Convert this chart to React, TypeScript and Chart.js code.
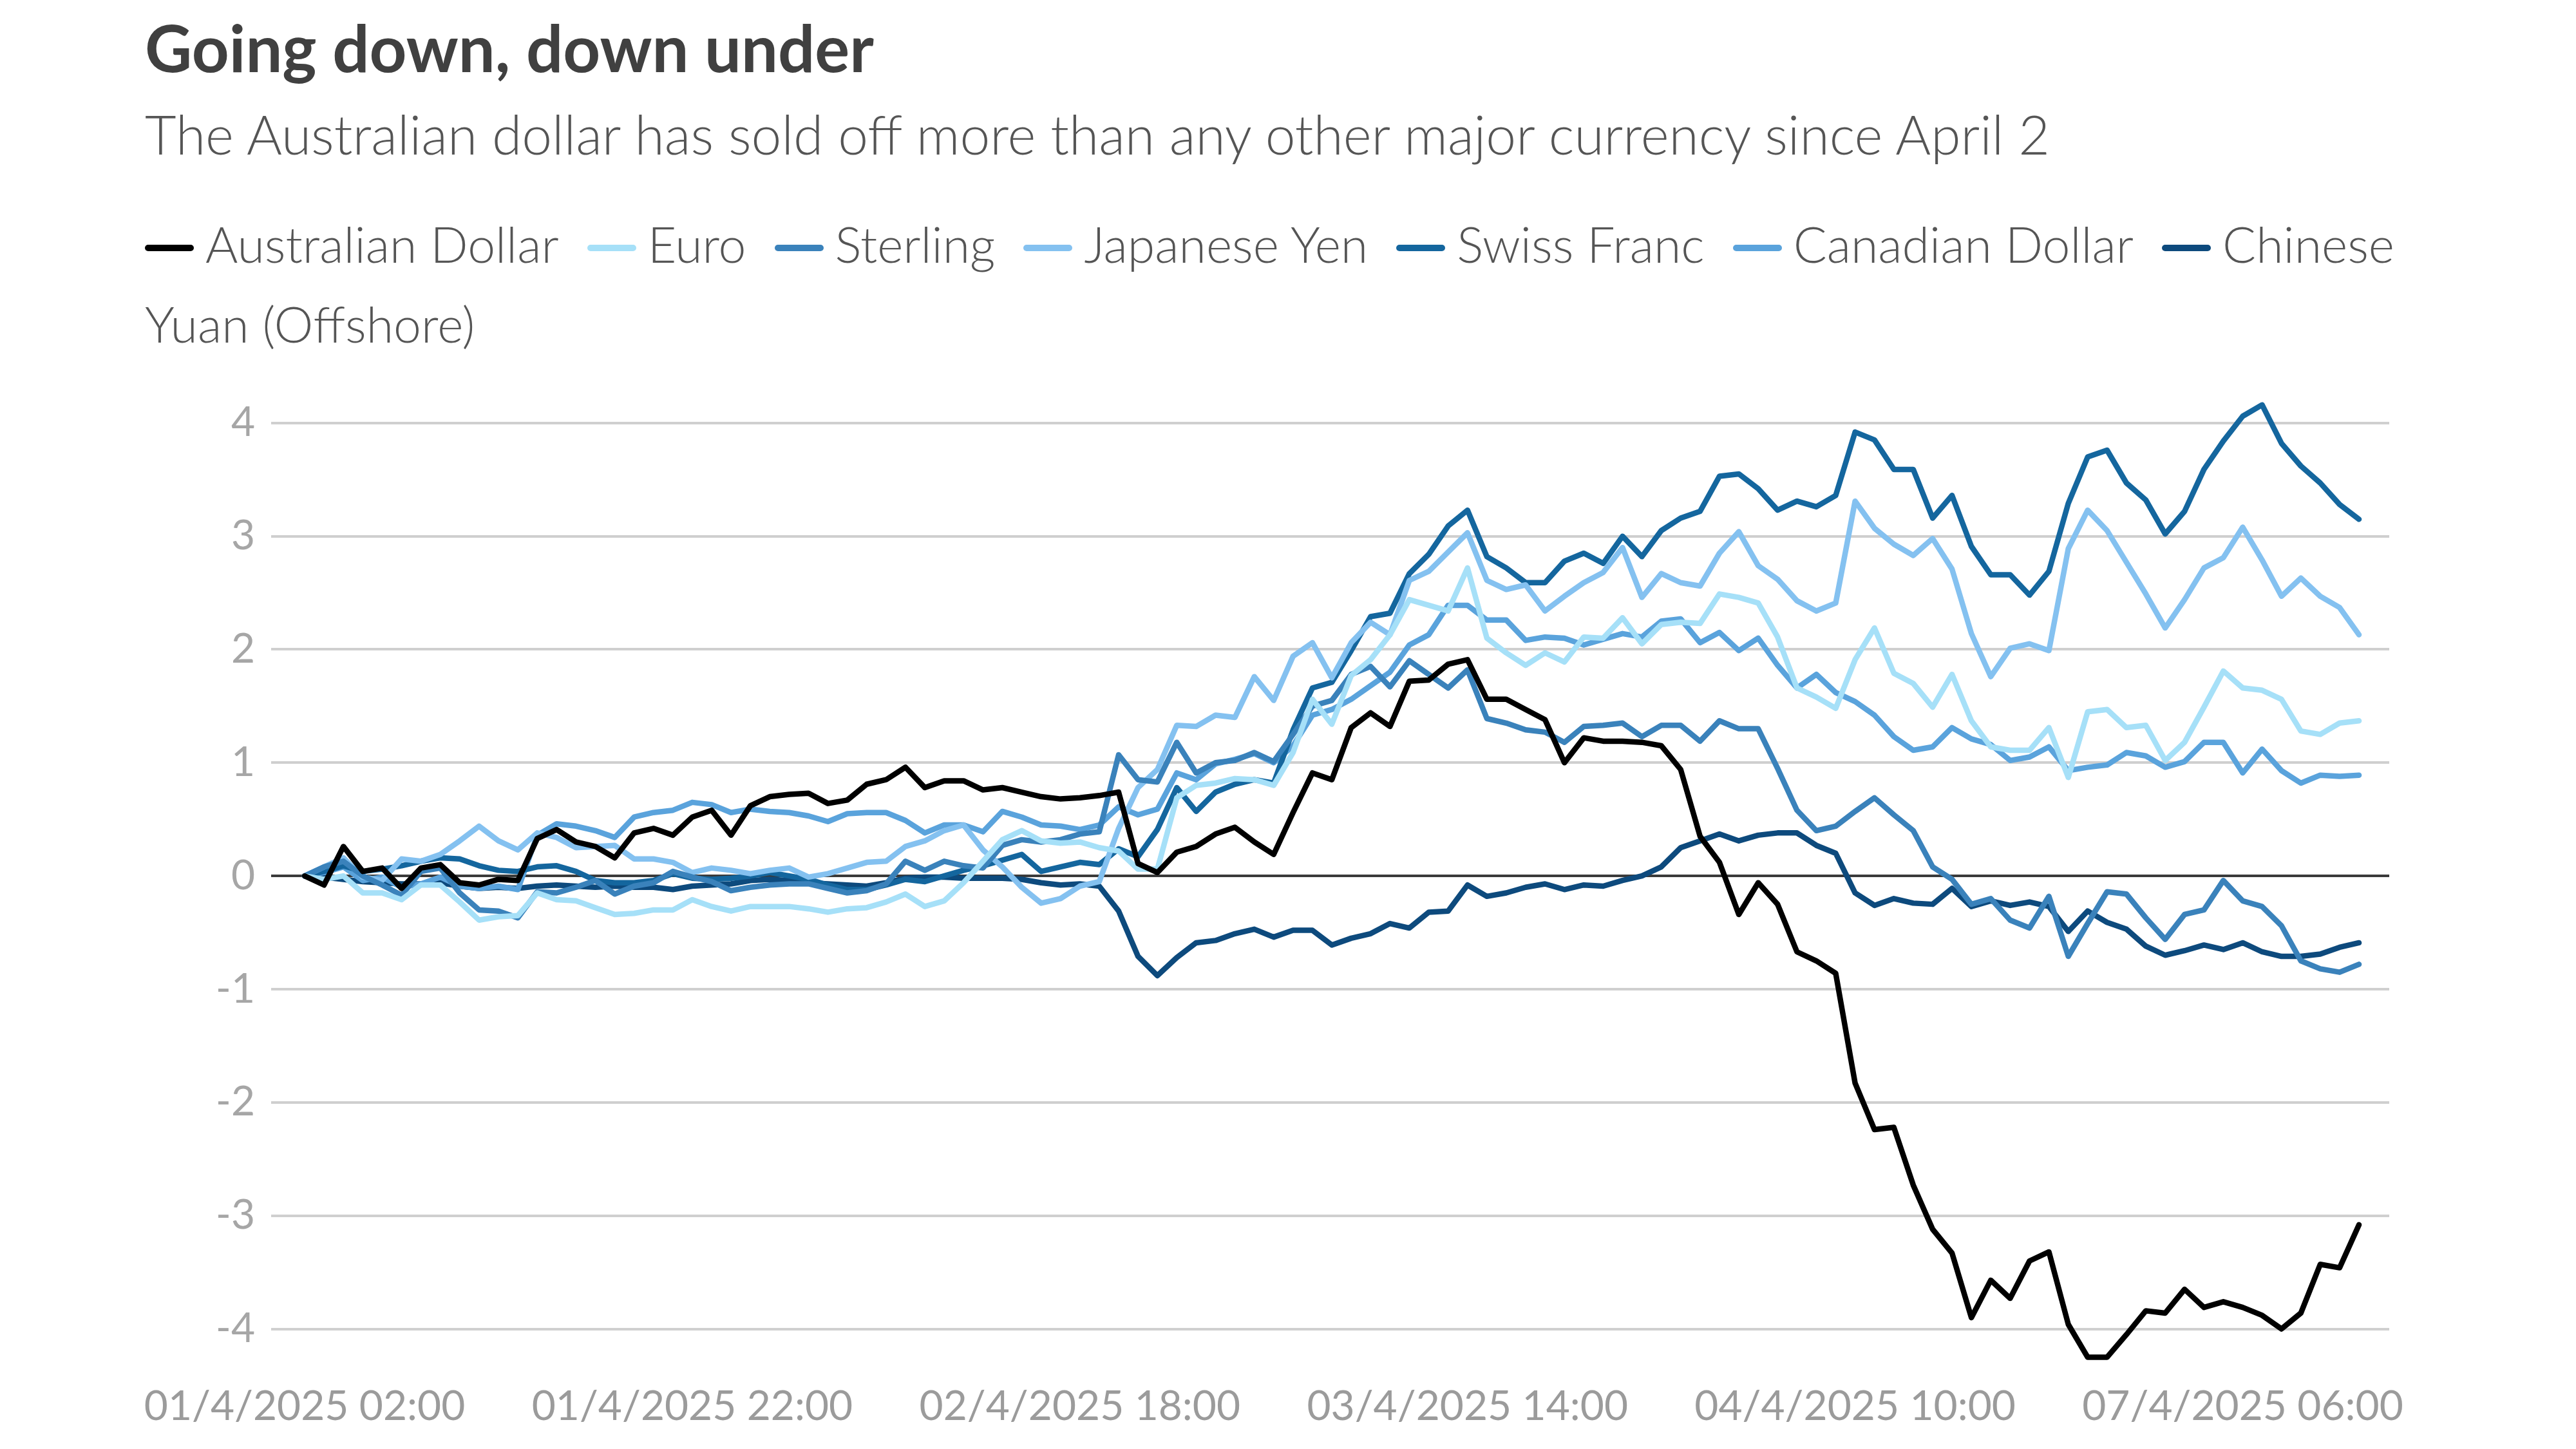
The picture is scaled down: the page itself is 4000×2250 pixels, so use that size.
import { useEffect, useRef } from 'react';
import { Chart, registerables } from 'chart.js';

Chart.register(...registerables);

// % change since 01/4/2025 02:00, hourly trading points (weekend skipped)
const seriesNames = [
  'Australian Dollar',
  'Euro',
  'Sterling',
  'Japanese Yen',
  'Swiss Franc',
  'Canadian Dollar',
  'Chinese Yuan (Offshore)',
];

const seriesColors = ['#000000', '#a6e0f8', '#3a82bb', '#84c1f0', '#14669e', '#5aa3dc', '#0d4a7d'];

const audValues = [
  0, -0.08, 0.26, 0.04, 0.07, -0.11, 0.07, 0.1, -0.06, -0.08, -0.03, -0.04, 0.33, 0.41, 0.3, 0.26, 0.16, 0.38, 0.42, 0.36,
  0.52, 0.58, 0.36, 0.62, 0.7, 0.72, 0.73, 0.64, 0.67, 0.81, 0.85, 0.96, 0.78, 0.84, 0.84, 0.76, 0.78, 0.74, 0.7, 0.68,
  0.69, 0.71, 0.74, 0.11, 0.03, 0.21, 0.26, 0.37, 0.43, 0.3, 0.19, 0.56, 0.91, 0.85, 1.31, 1.44, 1.32, 1.72, 1.73, 1.87,
  1.91, 1.56, 1.56, 1.47, 1.38, 1.0, 1.22, 1.19, 1.19, 1.18, 1.15, 0.94, 0.35, 0.12, -0.34, -0.06, -0.25, -0.67, -0.75, -0.86,
  -1.83, -2.24, -2.22, -2.73, -3.12, -3.33, -3.9, -3.57, -3.73, -3.4, -3.32, -3.96, -4.25, -4.25, -4.05, -3.84, -3.86, -3.65, -3.81, -3.76,
  -3.81, -3.88, -4.0, -3.86, -3.43, -3.46, -3.08,
];

const eurValues = [
  0, -0.03, 0, -0.15, -0.15, -0.21, -0.08, -0.08, -0.23, -0.39, -0.36, -0.35, -0.15, -0.21, -0.22, -0.28, -0.34, -0.33, -0.3, -0.3,
  -0.21, -0.27, -0.31, -0.27, -0.27, -0.27, -0.29, -0.32, -0.29, -0.28, -0.23, -0.16, -0.27, -0.22, -0.06, 0.13, 0.32, 0.4, 0.31, 0.29,
  0.3, 0.25, 0.22, 0.06, 0.06, 0.69, 0.8, 0.82, 0.86, 0.85, 0.8, 1.09, 1.56, 1.34, 1.77, 1.91, 2.13, 2.44, 2.39, 2.34,
  2.72, 2.1, 1.97, 1.86, 1.97, 1.89, 2.11, 2.1, 2.28, 2.05, 2.22, 2.24, 2.23, 2.49, 2.46, 2.41, 2.11, 1.66, 1.58, 1.48,
  1.91, 2.19, 1.79, 1.7, 1.49, 1.78, 1.37, 1.14, 1.11, 1.11, 1.31, 0.87, 1.45, 1.47, 1.31, 1.33, 1.02, 1.18, 1.49, 1.81,
  1.66, 1.64, 1.56, 1.28, 1.25, 1.35, 1.37,
];

const gbpValues = [
  0, 0.08, 0.13, 0, -0.08, -0.17, 0.04, 0.07, -0.15, -0.3, -0.31, -0.37, -0.14, -0.15, -0.1, -0.04, -0.16, -0.09, -0.06, 0.04,
  -0.01, -0.05, -0.13, -0.1, -0.08, -0.07, -0.07, -0.11, -0.15, -0.13, -0.07, 0.13, 0.05, 0.13, 0.09, 0.07, 0.27, 0.32, 0.3, 0.32,
  0.37, 0.39, 1.07, 0.85, 0.83, 1.18, 0.91, 1.0, 1.02, 1.09, 1.01, 1.25, 1.5, 1.55, 1.78, 1.85, 1.67, 1.9, 1.78, 1.66,
  1.82, 1.39, 1.35, 1.29, 1.27, 1.18, 1.32, 1.33, 1.35, 1.23, 1.33, 1.33, 1.19, 1.37, 1.3, 1.3, 0.95, 0.58, 0.4, 0.44,
  0.57, 0.69, 0.54, 0.4, 0.08, -0.03, -0.25, -0.2, -0.39, -0.46, -0.18, -0.71, -0.42, -0.14, -0.16, -0.37, -0.56, -0.34, -0.3, -0.04,
  -0.22, -0.27, -0.44, -0.75, -0.82, -0.85, -0.78,
];

const jpyValues = [
  0, 0.08, 0.16, -0.01, -0.04, 0.15, 0.13, 0.19, 0.31, 0.44, 0.31, 0.23, 0.38, 0.34, 0.25, 0.26, 0.27, 0.15, 0.15, 0.12,
  0.03, 0.07, 0.05, 0.02, 0.05, 0.07, -0.01, 0.02, 0.07, 0.12, 0.13, 0.26, 0.31, 0.4, 0.45, 0.23, 0.08, -0.1, -0.24, -0.2,
  -0.09, -0.05, 0.42, 0.78, 0.94, 1.33, 1.32, 1.42, 1.4, 1.76, 1.55, 1.94, 2.06, 1.75, 2.06, 2.24, 2.13, 2.61, 2.69, 2.86,
  3.03, 2.61, 2.53, 2.57, 2.34, 2.47, 2.59, 2.68, 2.9, 2.46, 2.67, 2.59, 2.56, 2.85, 3.04, 2.74, 2.62, 2.43, 2.34, 2.41,
  3.31, 3.07, 2.93, 2.83, 2.98, 2.71, 2.14, 1.76, 2.01, 2.05, 1.99, 2.89, 3.23, 3.05, 2.77, 2.49, 2.19, 2.44, 2.72, 2.81,
  3.08, 2.79, 2.47, 2.63, 2.47, 2.37, 2.13,
];

const chfValues = [
  0, 0.04, 0.09, 0.04, 0.06, 0.09, 0.13, 0.16, 0.15, 0.09, 0.05, 0.04, 0.08, 0.09, 0.04, -0.04, -0.06, -0.06, -0.04, 0.02,
  -0.02, -0.03, -0.02, 0, 0.03, 0, -0.03, -0.08, -0.12, -0.12, -0.08, -0.03, -0.05, 0, 0.05, 0.09, 0.14, 0.19, 0.04, 0.08,
  0.12, 0.1, 0.24, 0.17, 0.41, 0.78, 0.57, 0.74, 0.81, 0.85, 0.82, 1.29, 1.66, 1.71, 1.99, 2.29, 2.32, 2.67, 2.84, 3.09,
  3.23, 2.82, 2.72, 2.59, 2.59, 2.78, 2.85, 2.76, 3.0, 2.82, 3.05, 3.16, 3.22, 3.53, 3.55, 3.42, 3.23, 3.31, 3.26, 3.36,
  3.92, 3.85, 3.59, 3.59, 3.16, 3.36, 2.91, 2.66, 2.66, 2.48, 2.69, 3.29, 3.7, 3.76, 3.47, 3.32, 3.02, 3.22, 3.59, 3.84,
  4.06, 4.16, 3.82, 3.62, 3.47, 3.28, 3.15,
];

const cadValues = [
  0, 0.03, 0.08, -0.04, -0.01, -0.1, -0.07, -0.01, -0.09, -0.11, -0.09, -0.12, 0.36, 0.46, 0.44, 0.4, 0.34, 0.52, 0.56, 0.58,
  0.65, 0.63, 0.56, 0.59, 0.57, 0.56, 0.53, 0.48, 0.55, 0.56, 0.56, 0.49, 0.38, 0.45, 0.45, 0.39, 0.57, 0.52, 0.45, 0.44,
  0.41, 0.45, 0.61, 0.54, 0.59, 0.91, 0.85, 0.99, 1.03, 1.08, 1.0, 1.15, 1.42, 1.47, 1.56, 1.68, 1.8, 2.04, 2.13, 2.39,
  2.39, 2.26, 2.26, 2.08, 2.11, 2.1, 2.04, 2.09, 2.14, 2.11, 2.25, 2.27, 2.06, 2.15, 1.99, 2.1, 1.86, 1.66, 1.78, 1.62,
  1.54, 1.42, 1.23, 1.11, 1.14, 1.31, 1.21, 1.16, 1.02, 1.05, 1.14, 0.93, 0.96, 0.98, 1.09, 1.06, 0.96, 1.01, 1.18, 1.18,
  0.91, 1.12, 0.93, 0.82, 0.89, 0.88, 0.89,
];

const cnhValues = [
  0, -0.01, -0.03, -0.05, -0.06, -0.07, -0.07, -0.06, -0.09, -0.11, -0.1, -0.11, -0.09, -0.08, -0.09, -0.1, -0.09, -0.1, -0.1, -0.12,
  -0.09, -0.08, -0.07, -0.04, -0.03, -0.04, -0.06, -0.07, -0.08, -0.09, -0.06, -0.02, -0.01, -0.01, -0.02, -0.02, -0.02, -0.03, -0.06, -0.08,
  -0.07, -0.09, -0.31, -0.71, -0.88, -0.72, -0.59, -0.57, -0.51, -0.47, -0.54, -0.48, -0.48, -0.61, -0.55, -0.51, -0.42, -0.46, -0.32, -0.31,
  -0.08, -0.18, -0.15, -0.1, -0.07, -0.12, -0.08, -0.09, -0.04, 0, 0.08, 0.25, 0.31, 0.37, 0.31, 0.36, 0.38, 0.38, 0.27, 0.2,
  -0.15, -0.26, -0.2, -0.24, -0.25, -0.11, -0.27, -0.22, -0.26, -0.23, -0.27, -0.49, -0.31, -0.41, -0.47, -0.62, -0.7, -0.66, -0.61, -0.65,
  -0.59, -0.67, -0.71, -0.71, -0.69, -0.63, -0.59,
];

const seriesValues = [audValues, eurValues, gbpValues, jpyValues, chfValues, cadValues, cnhValues];

const xTickPositions = [0, 20, 40, 60, 80, 100];
const xTickLabels = [
  '01/4/2025 02:00',
  '01/4/2025 22:00',
  '02/4/2025 18:00',
  '03/4/2025 14:00',
  '04/4/2025 10:00',
  '07/4/2025 06:00',
];
const yTickValues = [-4, -3, -2, -1, 0, 1, 2, 3, 4];

const FONT = 'Lato, "Noto Sans", sans-serif';

const LineChart = () => {
  const canvasRef = useRef<HTMLCanvasElement>(null);

  useEffect(() => {
    const ctx = canvasRef.current!.getContext('2d')!;
    const chart = new Chart(ctx, {
      type: 'line',
      data: {
        datasets: seriesNames.map((name, i) => ({
          label: name,
          data: seriesValues[i].map((v, j) => ({ x: j, y: v })),
          borderColor: seriesColors[i],
          backgroundColor: seriesColors[i],
          borderWidth: 8.5,
          borderJoinStyle: 'round' as const,
          borderCapStyle: 'round' as const,
          pointRadius: 0,
          tension: 0,
        })),
      },
      options: {
        animation: false,
        responsive: true,
        maintainAspectRatio: false,
        layout: { padding: { top: 52, right: 282, bottom: 0, left: 0 } },
        plugins: {
          legend: { display: false },
          tooltip: { enabled: false },
        },
        scales: {
          x: {
            type: 'linear',
            min: -1.73,
            max: 107.56,
            afterBuildTicks: (scale) => {
              scale.ticks = xTickPositions.map((v) => ({ value: v }));
            },
            afterFit: (scale) => {
              scale.height = 103.5;
            },
            grid: { display: false, drawTicks: false },
            border: { display: false },
            ticks: {
              autoSkip: false,
              maxRotation: 0,
              padding: 9,
              color: '#9b9b9b',
              font: { family: FONT, size: 64 },
              callback: (_v, index) => xTickLabels[index],
            },
          },
          y: {
            min: -4.415,
            max: 4.19,
            afterBuildTicks: (scale) => {
              scale.ticks = yTickValues.map((v) => ({ value: v }));
            },
            afterFit: (scale) => {
              scale.width = 413;
            },
            grid: {
              drawTicks: false,
              lineWidth: 4,
              color: (c) => (c.tick && c.tick.value === 0 ? '#3a3a3a' : '#cfcfcf'),
            },
            border: { display: false },
            ticks: {
              padding: 25,
              color: '#a6a6a6',
              font: { family: FONT, size: 64 },
              callback: (v) => String(v),
            },
          },
        },
      },
    });

    return () => {
      chart.destroy();
    };
  }, []);

  return <canvas ref={canvasRef} />;
};

const App = () => {
  return (
    <div style={{ position: 'relative', width: 3984, height: 2234, fontFamily: FONT, background: '#fff' }}>
      <div
        style={{
          position: 'absolute',
          left: 217,
          top: 15,
          fontSize: 101,
          lineHeight: '101px',
          fontWeight: 700,
          color: '#404040',
          whiteSpace: 'nowrap',
        }}
      >
        Going down, down under
      </div>
      <div
        style={{
          position: 'absolute',
          left: 217,
          top: 158,
          fontSize: 84,
          lineHeight: '84px',
          fontWeight: 300,
          color: '#555555',
          whiteSpace: 'nowrap',
        }}
      >
        The Australian dollar has sold off more than any other major currency since April 2
      </div>
      <div
        style={{
          position: 'absolute',
          left: 217,
          top: 308,
          width: 3560,
          fontSize: 77,
          lineHeight: '124px',
          fontWeight: 300,
          color: '#555555',
        }}
      >
        {seriesNames.map((name, i) => (
          <span key={name} style={{ marginRight: i < seriesNames.length - 1 ? 44 : 0 }}>
            <span
              style={{
                display: 'inline-block',
                width: 76,
                height: 10,
                borderRadius: 5,
                background: seriesColors[i],
                verticalAlign: 'middle',
                marginRight: 18,
                position: 'relative',
                top: -4,
              }}
            />
            {name}
          </span>
        ))}
      </div>
      <div style={{ position: 'absolute', left: 0, top: 552, width: 3984, height: 1680 }}>
        <LineChart />
      </div>
    </div>
  );
};

export default App;
